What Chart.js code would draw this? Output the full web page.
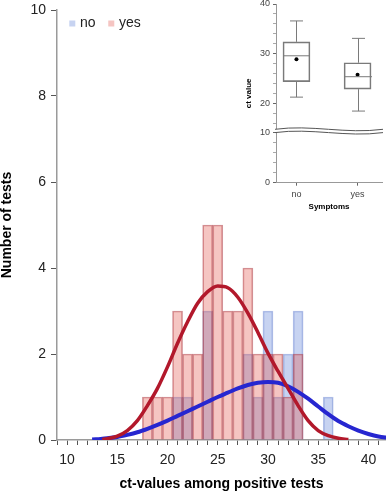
<!DOCTYPE html>
<html><head><meta charset="utf-8">
<script src="https://cdn.jsdelivr.net/npm/chart.js@4/dist/chart.umd.min.js"></script>
<style>
html,body{margin:0;padding:0;background:#fff;}
#wrap{position:relative;width:386px;height:493px;overflow:hidden;background:#fff;}
#main{position:absolute;left:0;top:0;}
#inset{position:absolute;left:220px;top:0;}
</style></head><body>
<div id="wrap"><canvas id="main" width="386" height="493"></canvas><canvas id="inset" width="166" height="215"></canvas></div>
<script>
// ---------- data: histogram ----------
const binCenters = [18,19,20,21,22,23,24,25,26,27,28,29,30,31,32,33,34,35,36];
const noCounts   = [0, 0, 0, 1, 1, 0, 3, 0, 0, 0, 2, 1, 3, 1, 2, 3, 0, 0, 1];
const yesCounts  = [1, 1, 1, 3, 2, 2, 5, 5, 3, 3, 4, 2, 2, 2, 1, 2, 0, 0, 0];
// ---------- data: fitted curves ----------
const yesCurveX = [13.5,14,15,16,17,18,19,20,21,22,23,24,25,26,27,28,29,30,31,32,33,34,35,36,37,38];
const yesCurveY = [0.01,0.03,0.09,0.22,0.45,0.8,1.2,1.7,2.25,2.75,3.18,3.45,3.58,3.54,3.32,2.95,2.5,2.02,1.6,1.2,0.8,0.45,0.22,0.1,0.04,0.01];
const noCurveX  = [12.5,13,14,15,16,17,18,19,20,21,22,23,24,25,26,27,28,29,30,31,32,33,34,35,36,37,38,39,40,41,42];
const noCurveY  = [0.01,0.02,0.04,0.07,0.12,0.18,0.26,0.35,0.45,0.56,0.67,0.78,0.89,1.0,1.1,1.2,1.28,1.33,1.35,1.33,1.25,1.12,0.96,0.78,0.6,0.44,0.32,0.22,0.14,0.08,0.05];
// ---------- axes ----------
const xTickValues = [9,10,11,12,13,14,15,16,17,18,19,20,21,22,23,24,25,26,27,28,29,30,31,32,33,34,35,36,37,38,39,40,41];
const xLabelValues = [10,15,20,25,30,35,40];
const yTickValues = [0,2,4,6,8,10];
const xTitle = 'ct-values among positive tests';
const yTitle = 'Number of tests';
const seriesNames = ['no','yes'];
// ---------- data: inset boxplot ----------
const groups = ['no','yes'];
const boxLow    = [21.3, 18.5];
const boxQ1     = [24.4, 22.9];
const boxMedian = [29.6, 25.4];
const boxQ3     = [32.4, 28.2];
const boxHigh   = [36.6, 33.1];
const boxMean   = [28.9, 25.8];
const insetYTicks = [0,2,4,6,8,10,16,18,20,22,24,26,28,30,32,34,36,38,40];
const insetYLabels = [0,10,20,30,40];
const insetYTitle = 'ct value';
const insetXTitle = 'Symptoms';

const BREAK_FROM = 10, BREAK_TO = 15, BREAK_GAP = 4.4;

Chart.defaults.font.family = '"Liberation Sans", Arial, sans-serif';
Chart.defaults.color = '#222';

const RED_FILL = 'rgba(225,90,80,0.35)', RED_BORDER = 'rgba(165,40,50,0.5)';
const BLUE_FILL = 'rgba(70,110,210,0.3)', BLUE_BORDER = 'rgba(90,120,205,0.45)';

const legendPlugin = {
  id: 'insideLegend',
  afterDraw(chart) {
    const ctx = chart.ctx, ca = chart.chartArea;
    ctx.save();
    ctx.font = '14px "Liberation Sans", Arial, sans-serif';
    ctx.textBaseline = 'middle';
    let x = ca.left + 12.3;
    const y = ca.top + 13.5;
    const fills = [BLUE_FILL, RED_FILL];
    seriesNames.forEach((name, i) => {
      ctx.fillStyle = '#fff';
      ctx.fillRect(x, y - 3, 6, 6);
      ctx.fillStyle = fills[i];
      ctx.fillRect(x, y - 3, 6, 6);
      ctx.fillStyle = '#222';
      ctx.fillText(name, x + 10.7, y);
      x += 10.7 + ctx.measureText(name).width + 12.7;
    });
    ctx.restore();
  }
};

new Chart(document.getElementById('main'), {
  type: 'bar',
  data: {
    datasets: [
      { type: 'line', label: 'yes fit', data: yesCurveX.map((x, i) => ({x, y: yesCurveY[i]})),
        borderColor: 'rgb(178,24,43)', borderWidth: 3.5, pointRadius: 0, fill: false, cubicInterpolationMode: 'monotone' },
      { type: 'line', label: 'no fit', data: noCurveX.map((x, i) => ({x, y: noCurveY[i]})),
        borderColor: 'rgb(38,38,208)', borderWidth: 4, pointRadius: 0, fill: false, cubicInterpolationMode: 'monotone' },
      { label: 'yes', data: binCenters.map((x, i) => ({x, y: yesCounts[i]})),
        backgroundColor: RED_FILL, borderColor: RED_BORDER, borderWidth: 1, borderSkipped: 'start',
        barPercentage: 1, categoryPercentage: 1, grouped: false },
      { label: 'no', data: binCenters.map((x, i) => ({x, y: noCounts[i]})),
        backgroundColor: BLUE_FILL, borderColor: BLUE_BORDER, borderWidth: 1, borderSkipped: 'start',
        barPercentage: 1, categoryPercentage: 1, grouped: false }
    ]
  },
  options: {
    responsive: false, animation: false, devicePixelRatio: 1,
    layout: { padding: { top: 10, left: 0, right: 0, bottom: 0 } },
    plugins: { legend: { display: false }, tooltip: { enabled: false } },
    scales: {
      x: {
        type: 'linear', min: 9, max: 41.75, offset: false,
        afterBuildTicks: s => { s.ticks = xTickValues.map(v => ({value: v})); },
        afterFit: s => { s.height = 53; s.paddingLeft = 0; s.paddingRight = 0; },
        grid: { display: true, offset: false, drawOnChartArea: false, drawTicks: true, tickLength: 5, color: '#555' },
        border: { display: true, color: '#9a9a9a', width: 1.5 },
        ticks: { autoSkip: false, maxRotation: 0, minRotation: 0, padding: 7, color: '#222', font: { size: 14 },
          callback: v => xLabelValues.includes(v) ? String(v) : '' },
        title: { display: true, text: xTitle, color: '#000', font: { size: 14, weight: 'bold', lineHeight: 1.2 }, padding: { top: 0, bottom: 0 } }
      },
      y: {
        type: 'linear', min: 0, max: 10,
        afterBuildTicks: s => { s.ticks = yTickValues.map(v => ({value: v})); },
        afterFit: s => { s.width = 57; s.paddingTop = 0; s.paddingBottom = 0; },
        grid: { display: true, drawOnChartArea: false, drawTicks: true, tickLength: 6, color: '#555' },
        border: { display: true, color: '#9a9a9a', width: 1.5 },
        ticks: { padding: 5, color: '#222', font: { size: 14 } },
        title: { display: true, text: yTitle, color: '#000', font: { size: 14, weight: 'bold', lineHeight: 1 }, padding: { top: 0, bottom: 0 } }
      }
    }
  },
  plugins: [legendPlugin]
});

// ---------- inset: broken linear scale ----------
class BrokenScale extends Chart.LinearScale {
  getPixelForValue(value) {
    if (value === null || value === undefined || isNaN(value)) return NaN;
    const min = this.min, max = this.max;
    const H = this.bottom - this.top;
    const unit = (H - BREAK_GAP) / ((max - min) - (BREAK_TO - BREAK_FROM));
    let off;
    if (value <= BREAK_FROM) off = (value - min) * unit;
    else if (value >= BREAK_TO) off = (BREAK_FROM - min) * unit + BREAK_GAP + (value - BREAK_TO) * unit;
    else off = (BREAK_FROM - min) * unit + (value - BREAK_FROM) / (BREAK_TO - BREAK_FROM) * BREAK_GAP;
    return this.bottom - off;
  }
  getValueForPixel(pixel) {
    const min = this.min, max = this.max;
    const H = this.bottom - this.top;
    const unit = (H - BREAK_GAP) / ((max - min) - (BREAK_TO - BREAK_FROM));
    const off = this.bottom - pixel;
    const lowLen = (BREAK_FROM - min) * unit;
    if (off <= lowLen) return min + off / unit;
    if (off <= lowLen + BREAK_GAP) return BREAK_FROM + (off - lowLen) / BREAK_GAP * (BREAK_TO - BREAK_FROM);
    return BREAK_TO + (off - lowLen - BREAK_GAP) / unit;
  }
}
BrokenScale.id = 'broken';
BrokenScale.defaults = Chart.LinearScale.defaults;
Chart.register(BrokenScale);

const boxPlugin = {
  id: 'boxParts',
  afterDatasetsDraw(chart) {
    const xs = chart.scales.x, ys = chart.scales.y, ctx = chart.ctx;
    ctx.save();
    ctx.strokeStyle = '#7a7a7a';
    ctx.lineWidth = 1;
    const line = (x1, y1, x2, y2) => { ctx.beginPath(); ctx.moveTo(x1, y1); ctx.lineTo(x2, y2); ctx.stroke(); };
    groups.forEach((g, i) => {
      const cx = Math.round(xs.getPixelForValue(i + 1)) + 0.5;
      const halfBox = 13.5, halfCap = 6.5;
      const yHi = ys.getPixelForValue(boxHigh[i]), yQ3 = ys.getPixelForValue(boxQ3[i]);
      const yLo = ys.getPixelForValue(boxLow[i]), yQ1 = ys.getPixelForValue(boxQ1[i]);
      const yMed = ys.getPixelForValue(boxMedian[i]);
      line(cx, yQ3, cx, yHi);
      line(cx, yQ1, cx, yLo);
      line(cx - halfCap, yHi, cx + halfCap, yHi);
      line(cx - halfCap, yLo, cx + halfCap, yLo);
      line(cx - halfBox, yMed, cx + halfBox, yMed);
    });
    ctx.restore();
  },
  afterDraw(chart) {
    const ys = chart.scales.y, ca = chart.chartArea, ctx = chart.ctx;
    const yA = ys.getPixelForValue(BREAK_TO) + 0.8;
    const yB = ys.getPixelForValue(BREAK_FROM) - 0.3;
    const x0 = ca.left - 1, x1 = ca.right + 1, w = x1 - x0;
    const wave = (yb) => {
      ctx.moveTo(x0, yb);
      ctx.bezierCurveTo(x0 + w * 0.33, yb - 5, x0 + w * 0.66, yb + 5, x1, yb);
    };
    ctx.save();
    ctx.beginPath();
    ctx.moveTo(x0, yA);
    ctx.bezierCurveTo(x0 + w * 0.33, yA - 5, x0 + w * 0.66, yA + 5, x1, yA);
    ctx.lineTo(x1, yB);
    ctx.bezierCurveTo(x0 + w * 0.66, yB + 5, x0 + w * 0.33, yB - 5, x0, yB);
    ctx.closePath();
    ctx.fillStyle = '#fff';
    ctx.fill();
    ctx.strokeStyle = '#555';
    ctx.lineWidth = 1;
    ctx.beginPath(); wave(yA); ctx.stroke();
    ctx.beginPath(); wave(yB); ctx.stroke();
    ctx.restore();
  }
};

new Chart(document.getElementById('inset'), {
  type: 'bar',
  data: {
    datasets: [
      { type: 'line', label: 'mean', data: groups.map((g, i) => ({x: i + 1, y: boxMean[i]})),
        showLine: false, pointRadius: 2, pointBackgroundColor: '#000', pointBorderColor: '#000', pointBorderWidth: 0 },
      { label: 'box', data: groups.map((g, i) => ({x: i + 1, y: [boxQ1[i], boxQ3[i]]})),
        backgroundColor: 'rgba(255,255,255,0)', borderColor: '#7a7a7a', borderWidth: 1, borderSkipped: false,
        barThickness: 27 }
    ]
  },
  options: {
    responsive: false, animation: false, devicePixelRatio: 1,
    layout: { padding: { top: 2.7, left: 0, right: 0, bottom: 0 } },
    plugins: { legend: { display: false }, tooltip: { enabled: false } },
    scales: {
      x: {
        type: 'linear', min: 0.665, max: 2.4, offset: false,
        afterBuildTicks: s => { s.ticks = groups.map((g, i) => ({value: i + 1})); },
        afterFit: s => { s.height = 32.3; s.paddingLeft = 0; s.paddingRight = 0; },
        grid: { display: true, offset: false, drawOnChartArea: false, drawTicks: true, tickLength: 3, color: '#666' },
        border: { display: true, color: '#999', width: 1 },
        ticks: { autoSkip: false, maxRotation: 0, padding: 3, color: '#444', font: { size: 9 },
          callback: v => groups[Math.round(v) - 1] || '' },
        title: { display: true, text: insetXTitle, color: '#000', font: { size: 8, weight: 'bold', lineHeight: 1.2 }, padding: { top: 0, bottom: 3.2 } }
      },
      y: {
        type: 'broken', min: 0, max: 40,
        afterBuildTicks: s => { s.ticks = insetYTicks.map(v => ({value: v})); },
        afterFit: s => { s.width = 56; s.paddingTop = 0; s.paddingBottom = 0; },
        grid: { display: true, drawOnChartArea: false, drawTicks: true, tickLength: 3,
          tickColor: c => (c.tick && insetYLabels.includes(c.tick.value)) ? '#666' : '#aaa' },
        border: { display: true, color: '#999', width: 1 },
        ticks: { autoSkip: false, padding: 3, color: '#444', font: { size: 9 },
          callback: v => insetYLabels.includes(v) ? String(v) : '' },
        title: { display: true, text: insetYTitle, color: '#000', font: { size: 8, weight: 'bold', lineHeight: 1.2 }, padding: { top: 23.7, bottom: 0 } }
      }
    }
  },
  plugins: [boxPlugin]
});
</script>
</body></html>
